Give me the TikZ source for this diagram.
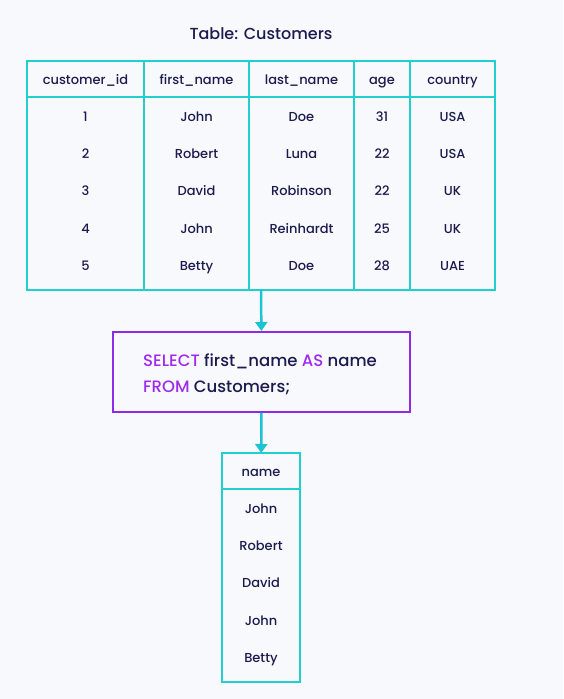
\documentclass[tikz,border=0pt]{standalone}
\usepackage{fontspec}
\setmainfont{Poppins}[UprightFont={* Medium}]
\usetikzlibrary{arrows.meta}
\definecolor{bg}{HTML}{F8F9FC}
\definecolor{cy}{HTML}{22CFCF}
\definecolor{cyarrow}{HTML}{1BC3D3}
\definecolor{pur}{HTML}{8F2BE6}
\definecolor{kw}{HTML}{A02AF0}
\definecolor{ink}{HTML}{1B1B4F}
\begin{document}
\begin{tikzpicture}[x=1pt,y=-1pt,
  cell/.style={font=\fontsize{13}{15}\selectfont, text=ink, anchor=center, text height=12pt, text depth=1pt, inner sep=0pt},
  tline/.style={draw=cy, line width=2pt},
  flow/.style={draw=cyarrow, line width=2.5pt, -{Triangle[length=9pt,width=12pt]}},
  qbox/.style={draw=pur, line width=1.8pt},
  sql/.style={anchor=west, font=\fontsize{16.5}{19}\selectfont, text=ink, inner sep=0pt, text height=15pt, text depth=1pt}]
\fill[bg] (0,0) rectangle (563,699);
\useasboundingbox (0,0) rectangle (563,699);
% title
\node[cell, font=\fontsize{16}{18}\selectfont, text height=15pt, text depth=1pt] (title) at (261,32) {Table: Customers};
% main table
\draw[tline] (27,61) rectangle (495,290);
\draw[tline] (27,97) -- (495,97);
\foreach \x in {144,249,354,410} \draw[tline] (\x,61) -- (\x,290);
\coordinate (tbot) at (261,290);
\node[cell] (h1) at (85.5,79) {customer\_id};
\node[cell] (h2) at (196.5,79) {first\_name};
\node[cell] (h3) at (301.5,79) {last\_name};
\node[cell] (h4) at (382,79) {age};
\node[cell] (h5) at (452.5,79) {country};
\foreach \y/\a/\b/\c/\d/\e [count=\i] in {116/1/John/Doe/31/USA, 153/2/Robert/Luna/22/USA, 190/3/David/Robinson/22/UK, 228/4/John/Reinhardt/25/UK, 265/5/Betty/Doe/28/UAE}{
  \node[cell] (r\i a) at (85.5,\y) {\a};
  \node[cell] (r\i b) at (196.5,\y) {\b};
  \node[cell] (r\i c) at (301.5,\y) {\c};
  \node[cell] (r\i d) at (382,\y) {\d};
  \node[cell] (r\i e) at (452.5,\y) {\e};
}
% query box
\node[qbox, minimum width=297pt, minimum height=80pt, anchor=north west, inner sep=0pt] (q) at (112,331) {};
\node[sql] (q1) at (143,359) {\textcolor{kw}{SELECT} first\_name \textcolor{kw}{AS} name};
\node[sql] (q2) at (143,385) {\textcolor{kw}{FROM} Customers;};
% result table
\node[minimum width=78pt, minimum height=229pt, anchor=north west, inner sep=0pt] (res) at (222,453) {};
\draw[tline] (res.north west) rectangle (res.south east);
\draw[tline] (222,489) -- (300,489);
\node[cell] (rh) at (261,471) {name};
\foreach \y/\n [count=\i] in {508/John,545/Robert,582/David,620/John,657/Betty}
  \node[cell] (o\i) at (261,\y) {\n};
% arrows
\draw[flow] (tbot) -- (q.north);
\draw[flow] (q.south) -- (res.north);
\end{tikzpicture}
\end{document}
